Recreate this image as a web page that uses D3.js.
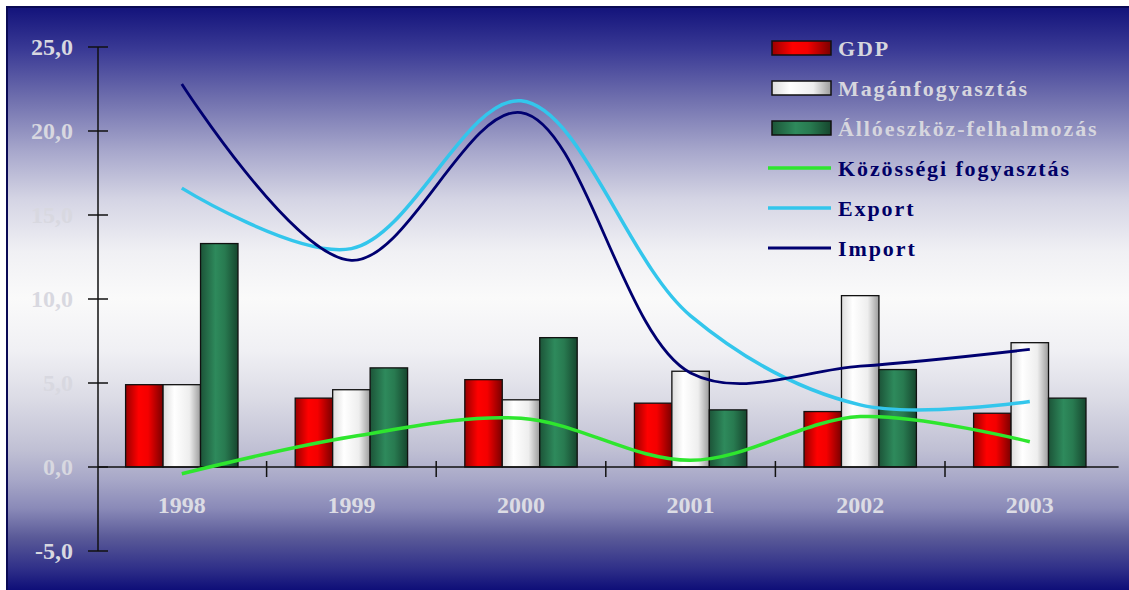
<!DOCTYPE html>
<html>
<head>
<meta charset="utf-8">
<script src="https://cdn.jsdelivr.net/npm/d3@7"></script>
<style>
body{margin:0;background:#fff;}
text{font-family:"Liberation Serif","Times New Roman",serif;font-weight:bold;}
</style>
</head>
<body>
<script>
var years = ["1998","1999","2000","2001","2002","2003"];
var gdp = [4.9, 4.1, 5.2, 3.8, 3.3, 3.2];
var magan = [4.9, 4.6, 4.0, 5.7, 10.2, 7.4];
var allo = [13.3, 5.9, 7.7, 3.4, 5.8, 4.1];
var kozossegi = [-0.4, 1.8, 2.9, 0.4, 3.0, 1.5];
var exportData = [16.6, 13.0, 21.8, 9.0, 3.7, 3.9];
var importData = [22.8, 12.3, 21.1, 5.6, 6.0, 7.0];
var yTicks = [-5, 0, 5, 10, 15, 20, 25];

var barSeries = [
  {label:"GDP", values:gdp, fill:"url(#gRed)", textColor:"#d6d6de"},
  {label:"Magánfogyasztás", values:magan, fill:"url(#gWhite)", textColor:"#d6d6de"},
  {label:"Állóeszköz-felhalmozás", values:allo, fill:"url(#gGreen)", textColor:"#d6d6de"}
];
var lineSeries = [
  {label:"Közösségi fogyasztás", values:kozossegi, color:"#2ee62e", width:3.5},
  {label:"Export", values:exportData, color:"#33c6ec", width:3.5},
  {label:"Import", values:importData, color:"#000070", width:2.8}
];

var svg = d3.select("body").append("svg").attr("width",1129).attr("height",590);
var defs = svg.append("defs");

//background gradient
var bg = defs.append("linearGradient").attr("id","bg").attr("x1",0).attr("y1",0).attr("x2",0).attr("y2",1);
[[0,"#12127a"],[0.075,"#3a3a95"],[0.16,"#7070ae"],[0.25,"#a8a8cc"],[0.33,"#d4d4e4"],[0.42,"#f0f0f4"],[0.5,"#fafafa"],
 [0.59,"#f0f0f4"],[0.67,"#dcdce6"],[0.76,"#c0c0d4"],[0.81,"#a8a8c8"],[0.86,"#8a8ab8"],[0.91,"#5a5a98"],[0.965,"#2e2e88"],[1,"#0e0e78"]]
  .forEach(function(s){ bg.append("stop").attr("offset",s[0]).attr("stop-color",s[1]); });

function hGrad(id, stops){
  var g = defs.append("linearGradient").attr("id",id).attr("x1",0).attr("y1",0).attr("x2",1).attr("y2",0);
  stops.forEach(function(s){ g.append("stop").attr("offset",s[0]).attr("stop-color",s[1]); });
}
hGrad("gRed",[[0,"#9a0000"],[0.35,"#ff0000"],[0.6,"#f40000"],[1,"#7a0000"]]);
hGrad("gWhite",[[0,"#dcdcdc"],[0.3,"#ffffff"],[0.7,"#eeeeee"],[1,"#9c9c9c"]]);
hGrad("gGreen",[[0,"#1c5438"],[0.4,"#2e8a5c"],[0.65,"#287a50"],[1,"#16462e"]]);

svg.append("rect").attr("x",6).attr("y",6).attr("width",1123).attr("height",584).attr("fill","url(#bg)");
svg.append("path").attr("d","M7,590V7H1129").attr("fill","none").attr("stroke","#0a0a55").attr("stroke-width",2);

//scales
var x = d3.scaleBand().domain(years).range([97, 97+6*169.6]).paddingInner(0).paddingOuter(0);
var y = d3.scaleLinear().domain([-5,25]).range([551,47]);
var groupPad = 28.6;
var xs = d3.scaleBand().domain([0,1,2]).range([groupPad, x.bandwidth()-groupPad]);

//bars
barSeries.forEach(function(s,si){
  svg.append("g").selectAll("rect").data(s.values).enter().append("rect")
    .attr("x",function(d,i){ return x(years[i]) + xs(si); })
    .attr("y",function(d){ return y(Math.max(0,d)); })
    .attr("width",xs.bandwidth())
    .attr("height",function(d){ return Math.abs(y(d)-y(0)); })
    .attr("fill",s.fill).attr("stroke","#111").attr("stroke-width",1.3);
});

//y axis
var yAxis = svg.append("g");
yAxis.append("line").attr("x1",98).attr("x2",98).attr("y1",y(25)).attr("y2",y(-5)).attr("stroke","#111").attr("stroke-width",1.5);
yAxis.selectAll("line.t").data(yTicks).enter().append("line").attr("class","t")
  .attr("x1",88).attr("x2",108).attr("y1",function(d){return y(d);}).attr("y2",function(d){return y(d);})
  .attr("stroke","#111").attr("stroke-width",1.5);
yAxis.selectAll("text").data(yTicks).enter().append("text")
  .attr("x",73).attr("y",function(d){return y(d)+8;}).attr("text-anchor","end")
  .attr("font-size",24).attr("fill","#d8d8e0")
  .text(function(d){ return d.toFixed(1).replace(".",","); });

//x axis
var xAxis = svg.append("g");
xAxis.append("line").attr("x1",98).attr("x2",x.range()[1]+4).attr("y1",y(0)).attr("y2",y(0)).attr("stroke","#111").attr("stroke-width",1.5);
xAxis.selectAll("line.t").data(years.slice(1)).enter().append("line").attr("class","t")
  .attr("x1",function(d){return x(d);}).attr("x2",function(d){return x(d);})
  .attr("y1",y(0)-6).attr("y2",y(0)+10).attr("stroke","#111").attr("stroke-width",1.5);
xAxis.selectAll("text").data(years).enter().append("text")
  .attr("x",function(d){return x(d)+x.bandwidth()/2;}).attr("y",513)
  .attr("text-anchor","middle").attr("font-size",24).attr("fill","#dcdce4")
  .text(function(d){return d;});

//lines
var line = d3.line()
  .x(function(d,i){ return x(years[i])+x.bandwidth()/2; })
  .y(function(d){ return y(d); })
  .curve(d3.curveCatmullRom.alpha(0.5));
lineSeries.forEach(function(s){
  svg.append("path").datum(s.values).attr("d",line)
    .attr("fill","none").attr("stroke",s.color).attr("stroke-width",s.width).attr("stroke-linejoin","round");
});

//legend
var legend = svg.append("g");
barSeries.forEach(function(s,i){
  var cy = 48+40*i;
  legend.append("rect").attr("x",772).attr("y",cy-7).attr("width",59).attr("height",14)
    .attr("fill",s.fill).attr("stroke","#111").attr("stroke-width",1.5);
  legend.append("text").attr("x",838).attr("y",cy+8).attr("font-size",22).attr("letter-spacing",1.9)
    .attr("fill",s.textColor).text(s.label);
});
lineSeries.forEach(function(s,i){
  var cy = 48+40*(i+3);
  legend.append("line").attr("x1",768).attr("x2",831).attr("y1",cy).attr("y2",cy)
    .attr("stroke",s.color).attr("stroke-width",s.width);
  legend.append("text").attr("x",838).attr("y",cy+8).attr("font-size",22).attr("letter-spacing",1.9)
    .attr("fill","#000066").text(s.label);
});
</script>
</body>
</html>
